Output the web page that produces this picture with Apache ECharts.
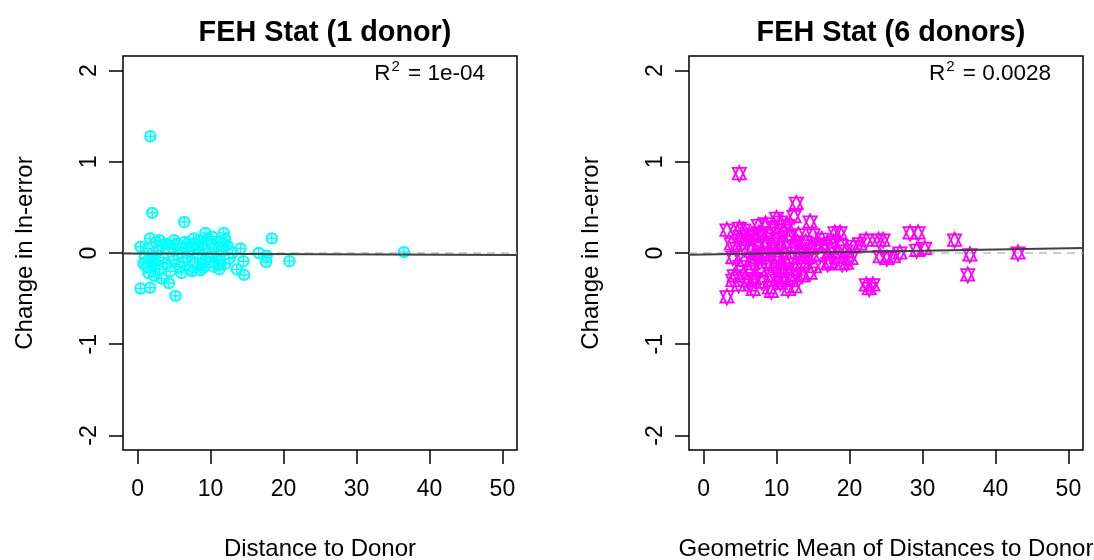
<!DOCTYPE html>
<html>
<head>
<meta charset="utf-8">
<script src="https://cdn.jsdelivr.net/npm/echarts@6/dist/echarts.min.js"></script>
<style>
  html, body { margin: 0; padding: 0; background: #fff; }
  #chart { width: 1094px; height: 560px; }
</style>
</head>
<body>
<div id="chart"></div>
<script>
// Change in ln-error against donor distance, single donor (FEH Stat, 1 donor)
const oneDonorDist = [
  1.75, 2.0, 6.4, 18.4, 0.4, 0.4, 1.7, 4.3, 5.2, 20.8, 16.6, 17.7, 17.6, 14.6, 14.5, 14.1, 13.6,
  11.8, 9.3, 7.7, 1.7, 11.8, 36.5, 10.4, 8.6, 11.3,
  1.0, 1.2, 1.5, 2.2, 2.5, 2.8, 3.0, 3.2, 3.5, 3.8, 4.0, 4.2, 4.5, 4.8, 5.0, 5.3, 5.5, 5.8, 6.0,
  6.2, 6.5, 6.8, 7.0, 7.2, 7.5, 7.8, 8.0, 8.3, 8.5, 8.8, 9.0, 9.2, 9.5, 9.8, 10.0, 10.2, 10.5,
  10.8, 11.0, 11.2, 11.5, 12.0, 12.3, 12.6, 13.0, 2.3, 3.3, 1.4, 2.0, 6.0, 7.5, 9.0, 10.0, 5.0,
  3.0, 4.0, 6.8, 8.2, 11.0, 12.0, 2.6, 1.8, 0.8
];
const oneDonorChange = [
  1.28, 0.44, 0.34, 0.16, 0.07, -0.39, -0.38, -0.33, -0.47, -0.09, 0.0, -0.03, -0.10, -0.24, -0.09, 0.05, -0.18,
  0.22, 0.22, 0.16, 0.16, 0.07, 0.01, -0.15, -0.19, -0.13,
  -0.05, -0.15, -0.22, -0.10, 0.12, 0.02, -0.18, 0.08, -0.05, 0.10, -0.12, 0.04, -0.20, 0.06, -0.08, 0.10, -0.02, -0.15, 0.05,
  -0.10, 0.12, -0.05, 0.02, -0.18, 0.08, -0.10, 0.10, -0.02, 0.14, -0.12, 0.05, -0.08, 0.15, 0.0, -0.10, 0.18, 0.06,
  -0.05, 0.12, -0.18, 0.02, -0.12, 0.08, -0.06, 0.0, -0.25, -0.28, 0.05, -0.02, -0.22, -0.20, -0.16, 0.10, 0.14,
  0.14, 0.10, 0.10, 0.05, -0.08, 0.15, -0.12, -0.08, -0.12
];

// Geometric mean of distances to the six donors (FEH Stat, 6 donors)
const sixDonorDist = [
  4.9, 12.7, 12.4, 3.2, 4.9, 14.6, 10.5, 18.0, 3.2, 4.0, 6.4, 9.3, 10.5, 12.5, 12.7, 14.6, 17.3, 19.6, 22.3, 7.6,
  18.7, 23.2, 22.7, 24.0, 24.6, 28.3, 29.4, 29.2, 30.3, 34.4, 36.5, 36.2, 43.1, 26.0, 26.9, 25.1, 21.4, 22.3, 20.5, 24.2,
  4.0, 4.5, 5.0, 5.3, 5.6, 6.0, 6.2, 6.5, 6.8, 7.0, 7.2, 7.5, 7.8, 8.0, 8.2, 8.5, 8.8, 9.0, 9.2, 9.5,
  9.8, 10.0, 10.2, 10.5, 10.8, 11.0, 11.2, 11.5, 11.8, 12.0, 12.3, 12.6, 13.0, 13.3, 13.6, 14.0, 14.3, 14.8, 15.2, 15.6,
  16.0, 16.5, 17.0, 17.5, 18.2, 18.8, 19.5, 20.2, 5.5, 7.5, 8.5, 9.5, 10.0, 11.5, 6.0, 7.0, 8.0, 9.0, 10.0, 11.0,
  12.0, 13.5, 8.6, 9.4, 10.6, 7.6, 6.6, 5.0, 4.2, 12.8, 13.8, 15.0, 16.2, 17.8, 19.0, 3.8, 4.8, 6.8, 11.6
];
const sixDonorChange = [
  0.87, 0.545, 0.40, 0.25, 0.27, 0.34, 0.34, 0.22, -0.48, -0.30, -0.35, -0.42, -0.33, -0.37, -0.24, -0.22, -0.10, -0.11, -0.35, 0.22,
  0.22, -0.35, -0.39, 0.14, 0.14, 0.22, 0.22, 0.03, 0.05, 0.14, -0.02, -0.24, 0.0, -0.04, 0.0, -0.06, 0.10, 0.14, 0.07, -0.04,
  -0.05, 0.05, -0.15, 0.10, -0.08, 0.15, -0.20, 0.02, -0.12, 0.18, -0.05, 0.08, -0.18, 0.20, -0.02, 0.12, -0.10, 0.22, -0.25, 0.05,
  -0.15, 0.15, -0.05, 0.10, -0.20, 0.25, 0.0, -0.12, 0.18, -0.05, 0.08, -0.18, 0.20, 0.02, -0.10, 0.12, -0.05, 0.05, -0.15, 0.10,
  -0.02, 0.08, -0.12, 0.05, -0.05, 0.08, 0.02, -0.06, 0.25, 0.30, 0.32, 0.28, 0.38, 0.30, -0.30, -0.28, -0.32, -0.38, -0.30, -0.28,
  -0.30, -0.25, -0.02, 0.10, -0.10, -0.02, 0.20, 0.18, -0.25, 0.12, -0.02, 0.20, 0.15, 0.12, -0.12, 0.10, -0.35, -0.40, -0.40
];

// Least-squares fits (intercept, slope) and their R² labels
const fitOne = { intercept: -0.005, slope: -0.0003, label: '1e-04' };
const fitSix = { intercept: -0.017, slope: 0.0014, label: '0.0028' };

const xTicks = [0, 10, 20, 30, 40, 50];
const yTicks = [-2, -1, 0, 1, 2];
const titles = ['FEH Stat (1 donor)', 'FEH Stat (6 donors)'];
const xNames = ['Distance to Donor', 'Geometric Mean of Distances to Donor'];
const yName = 'Change in ln-error';

const X_RANGE = [-2, 52];
const Y_RANGE = [-2.16, 2.16];
const CYAN = '#00ffff';
const MAGENTA = '#ff00ff';
const FONT = 'Liberation Sans, Arial, Helvetica, sans-serif';

function zip(xs, ys) { return xs.map((x, i) => [x, ys[i]]); }

function fitLine(fit) {
  return X_RANGE.map(x => [x, fit.intercept + fit.slope * x]);
}

// circle with a plus inside
function renderCirclePlus(params, api) {
  const p = api.coord([api.value(0), api.value(1)]);
  const r = 5.2;
  const ring = { stroke: CYAN, lineWidth: 2, fill: 'none' };
  const cross = { stroke: CYAN, lineWidth: 1.5, fill: 'none' };
  return {
    type: 'group',
    children: [
      { type: 'circle', shape: { cx: p[0], cy: p[1], r: r }, style: ring },
      { type: 'line', shape: { x1: p[0] - r, y1: p[1], x2: p[0] + r, y2: p[1] }, style: cross },
      { type: 'line', shape: { x1: p[0], y1: p[1] - r, x2: p[0], y2: p[1] + r }, style: cross }
    ]
  };
}

// two overlapping triangles, one up and one down
function renderTriangles(params, api) {
  const p = api.coord([api.value(0), api.value(1)]);
  const R = 4.9, lw = 1.8;
  const apex = 1.555 * R, base = 1.166 * R, half = 1.347 * R;
  const st = { stroke: MAGENTA, lineWidth: lw, fill: 'none' };
  const x = p[0], y = p[1];
  return {
    type: 'group',
    children: [
      { type: 'polygon', shape: { points: [[x, y - apex], [x + half, y + base], [x - half, y + base]] }, style: st },
      { type: 'polygon', shape: { points: [[x, y + apex], [x + half, y - base], [x - half, y - base]] }, style: st }
    ]
  };
}

function makeXAxis(idx) {
  return {
    type: 'value', gridIndex: idx, min: X_RANGE[0], max: X_RANGE[1], position: 'bottom',
    name: xNames[idx], nameLocation: 'middle', nameGap: 87,
    nameTextStyle: { fontFamily: FONT, fontSize: 24, color: '#000' },
    axisLine: { show: false, onZero: false },
    axisTick: { show: true, inside: false, length: 14, customValues: xTicks, lineStyle: { color: '#000', width: 1.5 } },
    axisLabel: { show: true, customValues: xTicks, margin: 28, fontFamily: FONT, fontSize: 23, color: '#000' },
    splitLine: { show: false }
  };
}

function makeYAxis(idx) {
  return {
    type: 'value', gridIndex: idx, min: Y_RANGE[0], max: Y_RANGE[1], position: 'left',
    name: yName, nameLocation: 'middle', nameGap: 86, nameRotate: 90,
    nameTextStyle: { fontFamily: FONT, fontSize: 24, color: '#000' },
    axisLine: { show: false, onZero: false },
    axisTick: { show: true, inside: false, length: 14, customValues: yTicks, lineStyle: { color: '#000', width: 1.5 } },
    axisLabel: { show: true, customValues: yTicks, rotate: 90, margin: 22, fontFamily: FONT, fontSize: 23, color: '#000' },
    splitLine: { show: false }
  };
}

function r2Title(label, rightPx) {
  return {
    text: '{r|R}{s|2}{r| = ' + label + '}',
    right: rightPx, top: 54,
    textStyle: {
      fontWeight: 'normal',
      rich: {
        r: { fontFamily: FONT, fontSize: 22.5, fontWeight: 'normal', color: '#000', verticalAlign: 'bottom', lineHeight: 26 },
        s: { fontFamily: FONT, fontSize: 15, fontWeight: 'normal', color: '#000', verticalAlign: 'top', lineHeight: 26, padding: [0, 2, 10, 1] }
      }
    }
  };
}

const chart = echarts.init(document.getElementById('chart'), null, { renderer: 'canvas' });

chart.setOption({
  animation: false,
  backgroundColor: '#fff',
  title: [
    { text: titles[0], left: 320, textAlign: 'center', top: 14,
      textStyle: { fontFamily: FONT, fontSize: 28.8, fontWeight: 'bold', color: '#000' } },
    { text: titles[1], left: 886, textAlign: 'center', top: 14,
      textStyle: { fontFamily: FONT, fontSize: 28.8, fontWeight: 'bold', color: '#000' } },
    r2Title(fitOne.label, 604),
    r2Title(fitSix.label, 38)
  ],
  grid: [
    { left: 123, top: 56, width: 394, height: 394, outerBoundsMode: 'none', containLabel: false,
      show: true, borderColor: '#000', borderWidth: 1.5, backgroundColor: 'transparent' },
    { left: 689, top: 56, width: 394, height: 394, outerBoundsMode: 'none', containLabel: false,
      show: true, borderColor: '#000', borderWidth: 1.5, backgroundColor: 'transparent' }
  ],
  xAxis: [makeXAxis(0), makeXAxis(1)],
  yAxis: [makeYAxis(0), makeYAxis(1)],
  series: [
    { type: 'line', xAxisIndex: 0, yAxisIndex: 0, data: [[X_RANGE[0], 0], [X_RANGE[1], 0]], symbol: 'none',
      lineStyle: { color: '#bebebe', width: 1.7, type: [8, 6] }, silent: true, z: 1 },
    { type: 'line', xAxisIndex: 1, yAxisIndex: 1, data: [[X_RANGE[0], 0], [X_RANGE[1], 0]], symbol: 'none',
      lineStyle: { color: '#bebebe', width: 1.7, type: [8, 6] }, silent: true, z: 1 },
    { type: 'custom', xAxisIndex: 0, yAxisIndex: 0, data: zip(oneDonorDist, oneDonorChange),
      renderItem: renderCirclePlus, encode: { x: 0, y: 1 }, z: 2 },
    { type: 'custom', xAxisIndex: 1, yAxisIndex: 1, data: zip(sixDonorDist, sixDonorChange),
      renderItem: renderTriangles, encode: { x: 0, y: 1 }, z: 2 },
    { type: 'line', xAxisIndex: 0, yAxisIndex: 0, data: fitLine(fitOne), symbol: 'none',
      lineStyle: { color: '#404040', width: 2 }, silent: true, z: 3 },
    { type: 'line', xAxisIndex: 1, yAxisIndex: 1, data: fitLine(fitSix), symbol: 'none',
      lineStyle: { color: '#404040', width: 2 }, silent: true, z: 3 }
  ]
});
</script>
</body>
</html>
